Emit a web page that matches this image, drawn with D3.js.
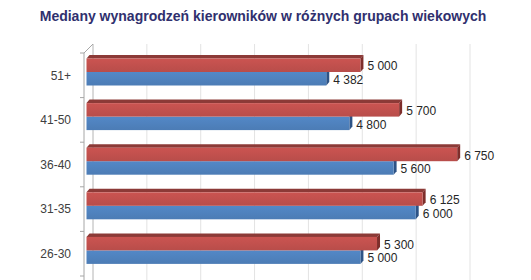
<!DOCTYPE html>
<html>
<head>
<meta charset="utf-8">
<script src="https://cdn.jsdelivr.net/npm/d3@7"></script>
<style>
  body { margin: 0; background: #fff; }
  svg { display: block; }
</style>
</head>
<body>
<div id="chart"></div>
<script>
// age groups, top to bottom
var categories = ['51+', '41-50', '36-40', '31-35', '26-30'];
var seriesNames = ['czerwona', 'niebieska'];
var redValues = [5000, 5700, 6750, 6125, 5300];
var blueValues = [4382, 4800, 5600, 6000, 5000];
var gridTicks = [0, 1000, 2000, 3000, 4000, 5000, 6000, 7000];

var width = 531, height = 280;
var depthX = 3, depthY = -3.5;

var colors = {
  czerwona: {front: '#C0504D', top: '#8C3A37', side: '#7E2E2B'},
  niebieska: {front: '#4F81BD', top: '#3B6496', side: '#2D5386'}
};

var plFormat = d3.formatLocale({decimal: ',', thousands: ' ', grouping: [3], currency: ['', ' zł']}).format(',');

var svg = d3.select('#chart').append('svg')
    .attr('width', width)
    .attr('height', height);

svg.append('rect').attr('width', width).attr('height', height).attr('fill', '#fff');

// title
svg.append('text')
    .attr('x', 263)
    .attr('y', 21)
    .attr('text-anchor', 'middle')
    .style('font-family', 'Liberation Sans, Arial, sans-serif')
    .style('font-weight', 'bold')
    .style('font-size', '14px')
    .style('fill', '#30306E')
    .text('Mediany wynagrodzeń kierowników w różnych grupach wiekowych');

// front plane scale (bars) and back plane scale (gridlines)
var x = d3.scaleLinear().domain([0, 7000]).range([84, 471]);
var xBack = d3.scaleLinear().domain([0, 7000]).range([93, 470]);

var y = d3.scaleBand().domain(categories).range([53, 276]);
var ySub = d3.scaleBand().domain(seriesNames).range([5.5, 32.5]);

// gridlines on back wall
svg.append('g').selectAll('line')
    .data(gridTicks)
    .enter().append('line')
    .attr('x1', function(d) { return xBack(d); })
    .attr('x2', function(d) { return xBack(d); })
    .attr('y1', 44)
    .attr('y2', height)
    .attr('stroke', function(d) { return d === 0 ? '#B4B4B4' : '#E3E3E3'; })
    .attr('stroke-width', 1);

// side wall top edge + category axis
svg.append('line')
    .attr('x1', x(0)).attr('y1', 53)
    .attr('x2', xBack(0)).attr('y2', 44)
    .attr('stroke', '#A6A6A6');
svg.append('line')
    .attr('x1', x(0)).attr('y1', 53)
    .attr('x2', x(0)).attr('y2', height)
    .attr('stroke', '#A6A6A6');

var boundaries = categories.map(function(c) { return y(c); }).concat([y.range()[1]]);
svg.append('g').selectAll('line')
    .data(boundaries)
    .enter().append('line')
    .attr('x1', x(0) - 4)
    .attr('x2', x(0))
    .attr('y1', function(d) { return d; })
    .attr('y2', function(d) { return d; })
    .attr('stroke', '#A6A6A6');

// category labels
svg.append('g').selectAll('text')
    .data(categories)
    .enter().append('text')
    .attr('x', 71)
    .attr('y', function(d) { return y(d) + y.bandwidth() / 2; })
    .attr('dy', '.35em')
    .attr('text-anchor', 'end')
    .style('font-family', 'Liberation Sans, Arial, sans-serif')
    .style('font-size', '12px')
    .style('fill', '#404040')
    .text(function(d) { return d; });

// bar data, blue first so the red body covers its hidden faces
var bars = [];
categories.forEach(function(c, i) {
  bars.push({cat: c, series: 'niebieska', value: blueValues[i]});
});
categories.forEach(function(c, i) {
  bars.push({cat: c, series: 'czerwona', value: redValues[i]});
});

var defs = svg.append('defs');
seriesNames.forEach(function(s) {
  var g = defs.append('linearGradient')
      .attr('id', 'grad-' + s)
      .attr('x1', 0).attr('y1', 0).attr('x2', 0).attr('y2', 1);
  var c = d3.color(colors[s].front);
  g.append('stop').attr('offset', '0%').attr('stop-color', c.brighter(0.15));
  g.append('stop').attr('offset', '100%').attr('stop-color', c.darker(0.12));
});

var barG = svg.append('g').selectAll('g')
    .data(bars)
    .enter().append('g');

var startX = x(0) + 2.5;

barG.each(function(d) {
  var g = d3.select(this);
  var y0 = y(d.cat) + ySub(d.series);
  var h = ySub.bandwidth();
  var x1 = x(d.value);
  // top face
  if (d.series === 'czerwona') {
    g.append('path')
        .attr('d', 'M' + startX + ',' + y0 +
                   'L' + (startX + depthX) + ',' + (y0 + depthY) +
                   'L' + (x1 + depthX) + ',' + (y0 + depthY) +
                   'L' + x1 + ',' + y0 + 'Z')
        .attr('fill', colors[d.series].top);
  }
  // right end face
  g.append('path')
      .attr('d', 'M' + x1 + ',' + y0 +
                 'L' + (x1 + depthX) + ',' + (y0 + depthY) +
                 'L' + (x1 + depthX) + ',' + (y0 + h + depthY) +
                 'L' + x1 + ',' + (y0 + h) + 'Z')
      .attr('fill', colors[d.series].side);
  // front face
  g.append('rect')
      .attr('x', startX)
      .attr('y', y0)
      .attr('width', x1 - startX)
      .attr('height', h)
      .attr('fill', 'url(#grad-' + d.series + ')');
});

// value labels
svg.append('g').selectAll('text')
    .data(bars)
    .enter().append('text')
    .attr('x', function(d) { return x(d.value) + depthX + 4; })
    .attr('y', function(d) { return y(d.cat) + ySub(d.series) + ySub.bandwidth() / 2 + 1; })
    .attr('dy', '.35em')
    .style('font-family', 'Liberation Sans, Arial, sans-serif')
    .style('font-size', '12px')
    .style('fill', '#262626')
    .text(function(d) { return plFormat(d.value); });
</script>
</body>
</html>
